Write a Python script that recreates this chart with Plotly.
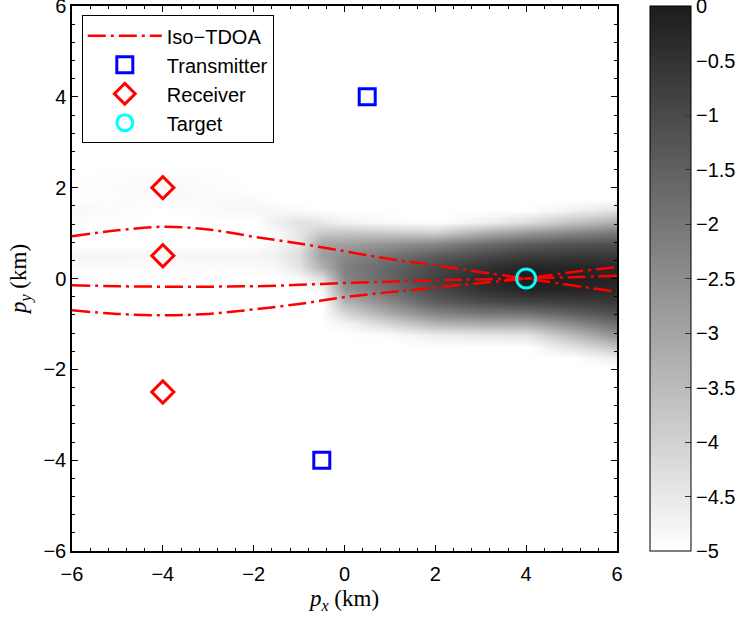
import plotly.graph_objects as go

# ---------------- data ----------------
grid_x = [-6, -4, -2, -1.5, -1, -0.5, 0, 1, 2, 3, 4, 5, 6]
grid_y = [-6, -2.5, -2, -1.75, -1.5, -1.25, -1, -0.75, -0.5, -0.25, 0,
          0.25, 0.5, 0.75, 1, 1.25, 1.5, 1.75, 2, 2.5, 6]
# log-likelihood values (rows follow grid_y, columns follow grid_x)
loglik = [
    [-5, -5, -5, -5, -5, -5, -5, -5, -5, -5, -5, -5, -5],
    [-5, -5, -5, -5, -5, -5, -5, -5, -5, -5, -5, -5, -5],
    [-5, -5, -5, -5, -5, -5, -5, -5, -5, -5, -5, -5, -5],
    [-5, -5, -5, -5, -5, -5, -5, -5, -5, -5, -5, -5, -4.6],
    [-5, -5, -5, -5, -5, -5, -5, -5, -5, -5, -5, -4.4, -3.7],
    [-5, -5, -5, -5, -5, -5, -5, -4.9, -4.6, -4.5, -4.4, -3.5, -2.6],
    [-5, -5, -5, -5, -5, -5, -4.8, -4.1, -3.4, -3.2, -3.2, -2.5, -1.8],
    [-5, -5, -5, -5, -5, -5, -4.1, -3.1, -2.3, -2.0, -1.9, -1.5, -1.1],
    [-5, -5, -5, -5, -5, -5, -3.3, -2.3, -1.4, -1.0, -0.8, -0.7, -0.6],
    [-5, -5, -5, -5, -5, -4.85, -2.7, -1.8, -1.0, -0.5, -0.2, -0.2, -0.3],
    [-5, -5, -5, -5, -4.9, -4.3, -2.3, -1.6, -0.8, -0.3, 0, -0.1, -0.2],
    [-4.92, -4.92, -4.9, -4.85, -4.4, -3.3, -2.2, -1.6, -1.0, -0.5, -0.2, -0.2, -0.3],
    [-4.8, -4.82, -4.8, -4.65, -4.25, -2.9, -2.4, -1.9, -1.4, -1.0, -0.7, -0.6, -0.6],
    [-5, -5, -5, -4.85, -4.45, -3.0, -2.9, -2.6, -2.3, -1.8, -1.4, -1.2, -1.1],
    [-5, -5, -5, -4.9, -4.45, -3.8, -3.7, -3.8, -3.9, -3.2, -2.7, -2.3, -2.0],
    [-4.95, -5, -5, -4.65, -4.35, -4.5, -4.75, -4.9, -5, -4.7, -4.3, -3.7, -3.2],
    [-4.85, -5, -4.82, -4.85, -4.9, -5, -5, -5, -5, -5, -5, -4.7, -4.4],
    [-5, -4.9, -4.9, -5, -5, -5, -5, -5, -5, -5, -5, -5, -5],
    [-5, -4.85, -5, -5, -5, -5, -5, -5, -5, -5, -5, -5, -5],
    [-5, -5, -5, -5, -5, -5, -5, -5, -5, -5, -5, -5, -5],
    [-5, -5, -5, -5, -5, -5, -5, -5, -5, -5, -5, -5, -5],
]

iso_x = [-6, -5, -4, -3, -2, -1, 0, 1, 2, 3, 4, 5, 6]
iso_a_y = [0.93, 1.06, 1.14, 1.08, 0.92, 0.77, 0.60, 0.43, 0.29, 0.14, 0.0, -0.15, -0.29]
iso_b_y = [-0.15, -0.17, -0.18, -0.18, -0.17, -0.14, -0.10, -0.07, -0.04, -0.02, 0.0, 0.03, 0.06]
iso_c_y = [-0.70, -0.78, -0.81, -0.78, -0.68, -0.56, -0.41, -0.30, -0.20, -0.10, 0.0, 0.14, 0.25]

tx_x = [0.5, -0.5]
tx_y = [4, -4]
rx_x = [-4, -4, -4]
rx_y = [2, 0.5, -2.5]
target_x = [4]
target_y = [0]

cbar_ticks = [0, -0.5, -1, -1.5, -2, -2.5, -3, -3.5, -4, -4.5, -5]
axis_ticks = [-6, -4, -2, 0, 2, 4, 6]

# ---------------- figure ----------------
SANS = "Liberation Sans, Arial, sans-serif"
SERIF = "Liberation Serif, Times New Roman, serif"
DASH = "18px,5px,3px,5px"

fig = go.Figure()

fig.add_trace(go.Heatmap(
    x=grid_x, y=grid_y, z=loglik, zmin=-5, zmax=0, zsmooth="best",
    colorscale=[[0, "#ffffff"], [1, "#1c1c1c"]], showlegend=False,
    hoverinfo="skip",
    colorbar=dict(
        x=1.0606, xanchor="left", xref="paper", y=0.5, yanchor="middle",
        len=1.0, lenmode="fraction", thickness=41, thicknessmode="pixels",
        xpad=0, ypad=0, outlinewidth=1, outlinecolor="#000",
        tickvals=cbar_ticks, ticks="inside", ticklen=6, tickcolor="#333",
        ticklabeloverflow="allow",
        tickfont=dict(family=SANS, size=20, color="#000"),
    ),
))

for i, ys in enumerate([iso_a_y, iso_b_y, iso_c_y]):
    fig.add_trace(go.Scatter(
        x=iso_x, y=ys, mode="lines", name="Iso\u2212TDOA",
        legendgroup="iso", showlegend=(i == 0),
        line=dict(color="#ff0000", width=2.5, dash=DASH, shape="spline"),
    ))

fig.add_trace(go.Scatter(
    x=tx_x, y=tx_y, mode="markers", name="Transmitter",
    marker=dict(symbol="square-open", size=16, color="#0000ff",
                line=dict(width=3, color="#0000ff")),
))
fig.add_trace(go.Scatter(
    x=rx_x, y=rx_y, mode="markers", name="Receiver",
    marker=dict(symbol="diamond-open", size=17, color="#ff0000",
                line=dict(width=3, color="#ff0000")),
))
fig.add_trace(go.Scatter(
    x=target_x, y=target_y, mode="markers", name="Target",
    marker=dict(symbol="circle-open", size=19, color="#00ffff",
                line=dict(width=3, color="#00ffff")),
))

axis_common = dict(
    range=[-6, 6], tickvals=axis_ticks, ticks="inside", ticklen=6,
    tickcolor="#000", tickwidth=1, mirror="allticks", showline=True,
    linecolor="#000", linewidth=1.5, showgrid=True, gridcolor="#8a8a8a",
    griddash="dot", gridwidth=1, zeroline=False, automargin=False,
    ticklabeloverflow="allow",
    tickfont=dict(family=SANS, size=20, color="#000"),
    minor=dict(dtick=0.4, ticks="inside", ticklen=3, tickcolor="#000",
               showgrid=False),
)

fig.update_layout(
    width=745, height=617,
    margin=dict(l=72, r=128, t=6, b=66, autoexpand=False),
    paper_bgcolor="white", plot_bgcolor="white",
    font=dict(family=SANS, size=20, color="#000"),
    xaxis=dict(axis_common, ticklabelstandoff=4,
               title=dict(text="<i>p</i><sub><i>x</i></sub> (km)",
                          font=dict(family=SERIF, size=23), standoff=6)),
    yaxis=dict(axis_common,
               title=dict(text="<i>p</i><sub><i>y</i></sub> (km)",
                          font=dict(family=SERIF, size=23), standoff=10)),
    legend=dict(x=0.018, y=0.983, xanchor="left", yanchor="top",
                bgcolor="white", bordercolor="#000", borderwidth=1,
                font=dict(family=SANS, size=20), itemwidth=74,
                tracegroupgap=0, traceorder="normal"),
    showlegend=True,
)

fig.write_html("out.html", config={"displayModeBar": False},
               post_script="document.body.style.margin='0px';")
